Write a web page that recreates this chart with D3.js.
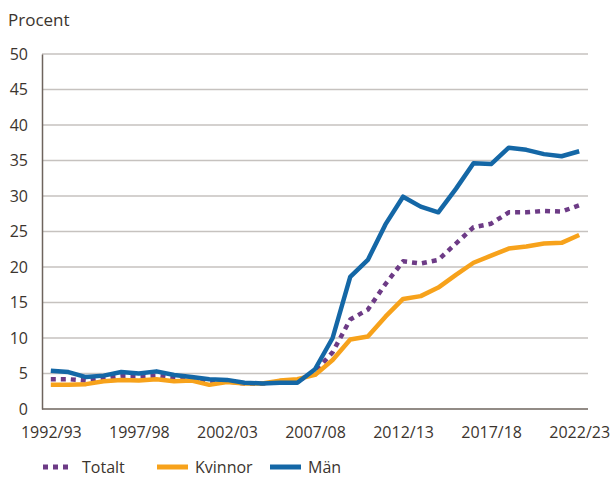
<!DOCTYPE html>
<html>
<head>
<meta charset="utf-8">
<script src="https://cdn.jsdelivr.net/npm/d3@7"></script>
<style>
  body { margin: 0; background: #fff; }
  text { font-family: "Open Sans", "Noto Sans", sans-serif; fill: #3b342e; }
</style>
</head>
<body>
<svg id="chart" width="611" height="477"></svg>
<script>
// Data
const years = ["1992/93","1993/94","1994/95","1995/96","1996/97","1997/98","1998/99","1999/00",
  "2000/01","2001/02","2002/03","2003/04","2004/05","2005/06","2006/07","2007/08","2008/09",
  "2009/10","2010/11","2011/12","2012/13","2013/14","2014/15","2015/16","2016/17","2017/18",
  "2018/19","2019/20","2020/21","2021/22","2022/23"];
const totalt = [4.2,4.2,4.0,4.3,4.6,4.6,4.7,4.4,4.2,3.9,3.9,3.6,3.6,3.8,3.9,5.2,8.0,
  12.6,14.0,17.6,20.8,20.5,21.0,23.3,25.6,26.1,27.7,27.7,27.9,27.8,28.7];
const kvinnor = [3.4,3.4,3.5,3.9,4.1,4.0,4.2,3.9,4.0,3.4,3.8,3.6,3.6,4.0,4.2,4.8,6.9,
  9.8,10.2,13.0,15.5,15.9,17.1,18.9,20.6,21.6,22.6,22.9,23.3,23.4,24.5];
const man = [5.4,5.2,4.5,4.7,5.2,5.0,5.3,4.8,4.5,4.2,4.1,3.7,3.6,3.7,3.7,5.6,10.0,
  18.6,21.0,26.0,29.9,28.5,27.7,31.0,34.6,34.5,36.8,36.5,35.9,35.6,36.3];
const xTickLabels = ["1992/93","1997/98","2002/03","2007/08","2012/13","2017/18","2022/23"];
const yTicks = [0,5,10,15,20,25,30,35,40,45,50];

const series = [
  { name: "Totalt", values: totalt, color: "#6d3b86", dash: "5,5" },
  { name: "Kvinnor", values: kvinnor, color: "#f7a21b", dash: null },
  { name: "Män", values: man, color: "#1467a6", dash: null }
];

// Layout
const svg = d3.select("#chart");
const plotLeft = 42, plotRight = 588, plotTop = 54, plotBottom = 409;

const x = d3.scalePoint().domain(years).range([plotLeft, plotRight]).padding(0.5);
const y = d3.scaleLinear().domain([0, 50]).range([plotBottom, plotTop]);

// Rutnät
svg.append("g")
  .selectAll("line")
  .data(yTicks.filter(d => d > 0))
  .join("line")
  .attr("x1", plotLeft).attr("x2", plotRight)
  .attr("y1", d => y(d)).attr("y2", d => y(d))
  .attr("stroke", "#c6c2bf")
  .attr("stroke-width", 1.3);

// Y-axel
const yAxis = svg.append("g")
  .attr("transform", `translate(${plotLeft},0)`)
  .call(d3.axisLeft(y).tickValues(yTicks).tickSize(0).tickPadding(14));
yAxis.select(".domain").attr("stroke", "#6e645e").attr("stroke-width", 1.5);
yAxis.selectAll("text").attr("font-size", 16).style("fill", "#3b342e");

// X-axel
const xAxis = svg.append("g")
  .attr("transform", `translate(0,${plotBottom})`)
  .call(d3.axisBottom(x).tickValues(xTickLabels).tickSize(0).tickPadding(18));
xAxis.select(".domain").attr("d", `M${plotLeft},0H${plotRight}`)
  .attr("stroke", "#6e645e").attr("stroke-width", 1.5);
xAxis.selectAll("text").attr("font-size", 16).style("fill", "#3b342e");

// Axeltitel
svg.append("text")
  .attr("x", 8).attr("y", 26)
  .attr("font-size", 17)
  .text("Procent");

// Linjer
const line = d3.line()
  .x((d, i) => x(years[i]))
  .y(d => y(d));

svg.append("g")
  .selectAll("path")
  .data(series)
  .join("path")
  .attr("d", d => line(d.values))
  .attr("fill", "none")
  .attr("stroke", d => d.color)
  .attr("stroke-width", 4.5)
  .attr("stroke-dasharray", d => d.dash)
  .attr("stroke-linejoin", "round");

// Förklaring
const legendX = [43, 157, 270];
const legend = svg.append("g")
  .selectAll("g")
  .data(series)
  .join("g")
  .attr("transform", (d, i) => `translate(${legendX[i]},467)`);

legend.append("line")
  .attr("x1", 0).attr("x2", d => d.dash ? 28 : 31)
  .attr("y1", 0).attr("y2", 0)
  .attr("stroke", d => d.color)
  .attr("stroke-width", 5)
  .attr("stroke-dasharray", d => d.dash);

legend.append("text")
  .attr("x", d => d.dash ? 39 : 38)
  .attr("y", 5.5)
  .attr("font-size", 16)
  .text(d => d.name);
</script>
</body>
</html>
